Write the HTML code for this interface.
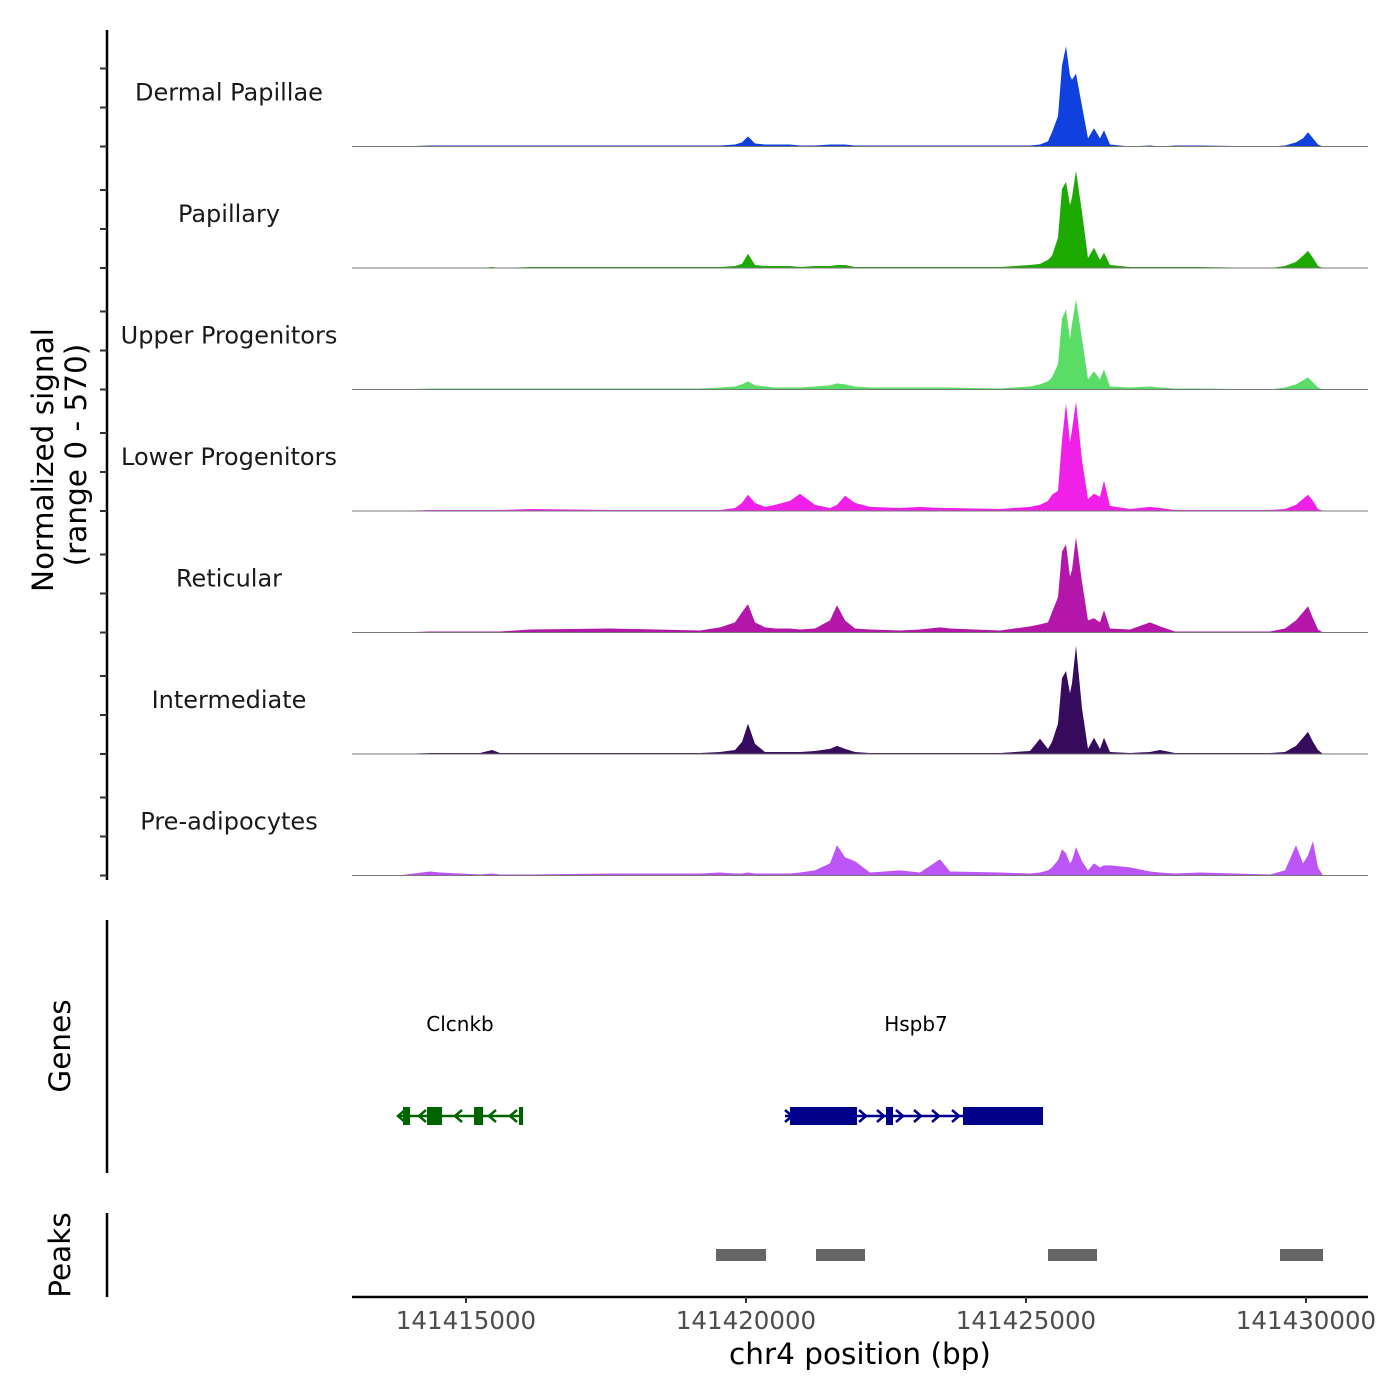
<!DOCTYPE html>
<html><head><meta charset="utf-8"><style>
html,body{margin:0;padding:0;background:#fff;}
svg{display:block;font-family:"DejaVu Sans","Liberation Sans",sans-serif;}
</style></head><body>
<svg id="chart" width="1400" height="1400" viewBox="0 0 1400 1400">
<g id="tracks"></g>
<line x1="107" y1="30" x2="107" y2="880" stroke="#000" stroke-width="2.5"/>
<g id="yticks"></g>
<text transform="translate(53,460) rotate(-90)" text-anchor="middle" font-size="29.5" fill="#000">Normalized signal</text>
<text transform="translate(86,455) rotate(-90)" text-anchor="middle" font-size="29.5" fill="#000">(range 0 - 570)</text>
<line x1="107" y1="920" x2="107" y2="1173" stroke="#000" stroke-width="2.5"/>
<text transform="translate(70,1046) rotate(-90)" text-anchor="middle" font-size="29.5" fill="#000">Genes</text>
<line x1="107" y1="1213" x2="107" y2="1297" stroke="#000" stroke-width="2.5"/>
<text transform="translate(70,1255) rotate(-90)" text-anchor="middle" font-size="29.5" fill="#000">Peaks</text>
<g id="genes"></g>
<g id="peaks"></g>
<line x1="352" y1="1297" x2="1368" y2="1297" stroke="#000" stroke-width="2.5"/>
<g id="xticks"></g>
<text x="860" y="1364" text-anchor="middle" font-size="29.5" fill="#000">chr4 position (bp)</text>
</svg>
<script>
const NS="http://www.w3.org/2000/svg";
const trackNames=["Dermal Papillae","Papillary","Upper Progenitors","Lower Progenitors","Reticular","Intermediate","Pre-adipocytes"];
const trackColors=["#1040DD","#1CAA00","#5ADD66","#F020E8","#B316A8","#360A5C","#BB55F5"];
const positions=[141413786,141414357,141414536,141415250,141415464,141415607,141416143,141417572,141419179,141419536,141419804,141419929,141420036,141420161,141420339,141420518,141420786,141420964,141421232,141421500,141421625,141421768,141421947,141422214,141422750,141423107,141423464,141423643,141424536,141425072,141425250,141425393,141425464,141425572,141425643,141425714,141425786,141425822,141425893,141426000,141426107,141426214,141426322,141426393,141426500,141426857,141427214,141427393,141427661,141428107,141429357,141429625,141429822,141429947,141430036,141430125,141430214,141430304];
const sigDermal=[0,1,1,1,1,1,1,1,1,1,2,4,10,3,2,2,2,1,1,2,2,2,1,1,1,1,1,1,1,1,2,5,14,30,80,99,70,66,72,40,8,18,8,16,2,0,1,0,1,1,0,1,4,8,14,8,2,0];
const sigPapillary=[0,0,0,0,1,0,1,1,1,1,2,4,14,3,2,2,2,1,2,2,3,3,1,1,1,1,1,1,1,3,4,8,12,30,78,85,62,70,96,55,10,20,8,15,3,1,1,1,1,1,0,2,6,12,17,10,2,0];
const sigUpper=[0,1,1,1,1,1,1,1,1,2,3,5,8,4,3,2,2,2,3,4,6,5,3,2,2,2,2,2,1,3,5,8,12,25,70,79,50,65,89,50,10,18,10,20,3,2,3,2,1,1,0,2,5,9,12,7,2,0];
const sigLower=[0,1,1,1,1,1,2,1,1,1,3,8,16,8,4,6,10,17,6,3,6,15,8,4,3,4,3,3,2,4,6,10,16,20,70,106,68,80,108,50,12,17,14,30,5,2,4,3,1,1,1,2,6,12,16,10,2,0];
const sigReticular=[0,1,1,1,1,1,3,4,2,5,10,20,28,10,5,4,4,3,4,12,27,12,4,3,2,3,5,4,2,6,8,10,20,35,80,87,55,62,94,50,12,14,10,22,4,3,10,6,1,1,1,4,12,20,26,14,3,0];
const sigIntermediate=[0,1,1,1,4,1,1,1,1,2,4,12,30,10,2,2,2,2,3,5,8,5,2,1,1,1,1,1,1,3,15,5,12,30,75,82,60,70,107,45,5,16,5,16,2,1,2,4,1,1,1,2,8,16,22,12,4,0];
const sigPreadipo=[0,4,3,1,2,1,1,2,2,3,2,2,3,2,2,2,2,3,5,12,30,18,14,3,5,3,16,4,3,2,3,5,8,15,26,22,12,15,28,14,5,12,8,10,10,8,4,3,2,3,1,5,30,12,20,34,8,0];
const signals=[sigDermal,sigPapillary,sigUpper,sigLower,sigReticular,sigIntermediate,sigPreadipo];
const xTicks=[141415000,141420000,141425000,141430000];
const xTickLabels=["141415000","141420000","141425000","141430000"];
const peakStarts=[141419464,141421250,141425393,141429536];
const peakEnds=[141420357,141422125,141426268,141430304];

function xScale(bp){return 466+(bp-141415000)*280/5000;}
const trackTop=25, trackH=121.5, yMax=120;
function yScale(v,i){const base=trackTop+trackH*(i+1);return base-v/yMax*trackH;}

const tracks=document.getElementById('tracks');
signals.forEach((s,i)=>{
  const base=trackTop+trackH*(i+1);
  let d="M"+xScale(positions[0]).toFixed(1)+","+base;
  s.forEach((v,j)=>{d+=" L"+xScale(positions[j]).toFixed(1)+","+yScale(v,i).toFixed(1);});
  d+=" L"+xScale(positions[positions.length-1]).toFixed(1)+","+base+" Z";
  const p=document.createElementNS(NS,'path');
  p.setAttribute('d',d);p.setAttribute('fill',trackColors[i]);
  
  
  tracks.appendChild(p);
  const l=document.createElementNS(NS,'line');
  l.setAttribute('x1',352);l.setAttribute('x2',1368);l.setAttribute('y1',base);l.setAttribute('y2',base);
  l.setAttribute('stroke','#777');l.setAttribute('stroke-width','1');
  
  
  tracks.appendChild(l);
  const t=document.createElementNS(NS,'text');
  t.setAttribute('x',229);t.setAttribute('y',base-46);t.setAttribute('text-anchor','middle');
  t.setAttribute('font-size','24');t.setAttribute('fill','#1a1a1a');
  t.textContent=trackNames[i];
  
  
  tracks.appendChild(t);
  [0,39,78].forEach(o=>{
    const tk=document.createElementNS(NS,'line');
    tk.setAttribute('x1',100);tk.setAttribute('x2',107);tk.setAttribute('y1',base-o);tk.setAttribute('y2',base-o);
    tk.setAttribute('stroke','#333');tk.setAttribute('stroke-width','2');
    
    
    document.getElementById('yticks').appendChild(tk);
  });
});

const xt=document.getElementById('xticks');
xTicks.forEach((b,i)=>{
  const x=xScale(b);
  const l=document.createElementNS(NS,'line');
  l.setAttribute('x1',x);l.setAttribute('x2',x);l.setAttribute('y1',1297);l.setAttribute('y2',1303);
  l.setAttribute('stroke','#333');l.setAttribute('stroke-width','2');
  
  
  xt.appendChild(l);
  const t=document.createElementNS(NS,'text');
  t.setAttribute('x',x);t.setAttribute('y',1329);t.setAttribute('text-anchor','middle');
  t.setAttribute('font-size','24.5');t.setAttribute('fill','#4d4d4d');
  t.textContent=xTickLabels[i];
  
  
  xt.appendChild(t);
});

const pk=document.getElementById('peaks');
peakStarts.forEach((s,i)=>{
  const r=document.createElementNS(NS,'rect');
  r.setAttribute('x',xScale(s));r.setAttribute('width',xScale(peakEnds[i])-xScale(s));
  r.setAttribute('y',1249);r.setAttribute('height',12);r.setAttribute('fill','#666');
  
  
  pk.appendChild(r);
});
</script>
<script>
(function(){
const g=document.getElementById('genes');
function mk(tag,attrs,name){const e=document.createElementNS(NS,tag);for(const k in attrs)e.setAttribute(k,attrs[k]);


g.appendChild(e);return e;}
mk('line',{x1:398,x2:522,y1:1116,y2:1116,stroke:'#006400','stroke-width':2.5},'clcnkb-intron');
[[403,410],[427,442],[474,483],[519,523]].forEach(e=>mk('rect',{x:e[0],y:1107,width:e[1]-e[0],height:18,fill:'#006400'},'clcnkb-exon'));
[398,419,455,489,510].forEach(x=>mk('polyline',{points:(x+7)+",1110 "+x+",1116 "+(x+7)+",1122",fill:'none',stroke:'#006400','stroke-width':2.5},'clcnkb-strand-arrow'));
const t1=mk('text',{x:460,y:1031,'text-anchor':'middle','font-size':20,fill:'#000'},'clcnkb-label');t1.textContent='Clcnkb';
mk('line',{x1:785,x2:1043,y1:1116,y2:1116,stroke:'#00008B','stroke-width':2.5},'hspb7-intron');
[[790,857],[886,893],[963,1043]].forEach(e=>mk('rect',{x:e[0],y:1107,width:e[1]-e[0],height:18,fill:'#00008B'},'hspb7-exon'));
[785,859,877,896,914,932,952].forEach(x=>mk('polyline',{points:x+",1110 "+(x+7)+",1116 "+x+",1122",fill:'none',stroke:'#00008B','stroke-width':2.5},'hspb7-strand-arrow'));
const t2=mk('text',{x:916,y:1031,'text-anchor':'middle','font-size':20,fill:'#000'},'hspb7-label');t2.textContent='Hspb7';
})();
</script>
</body></html>
